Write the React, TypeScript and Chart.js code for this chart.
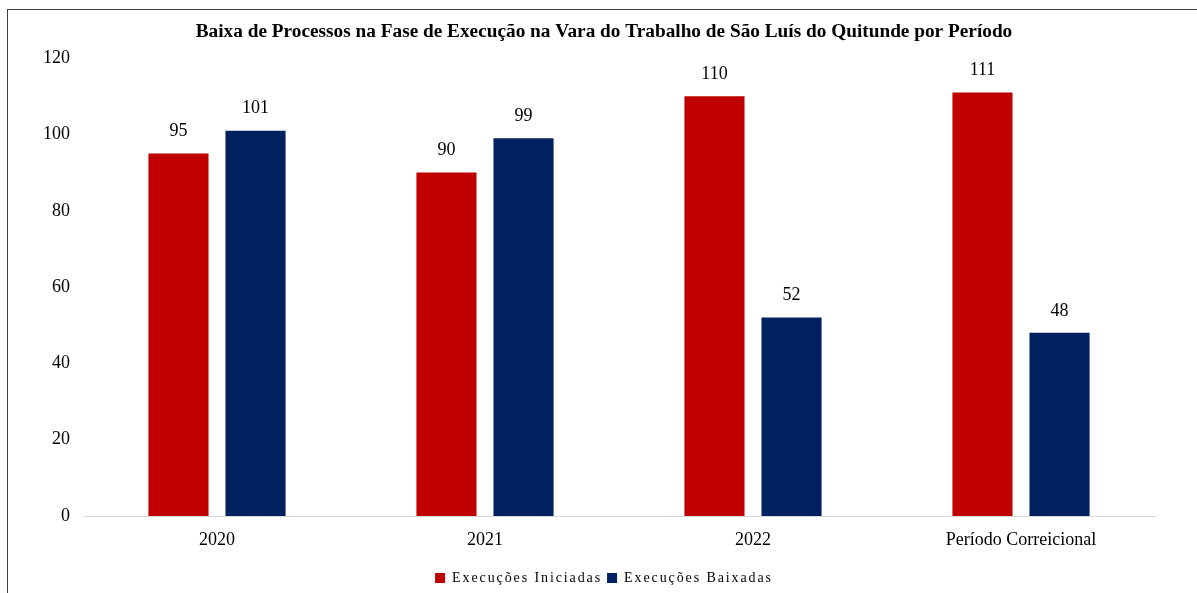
import React, { useEffect, useRef } from "react";
import { Chart, registerables } from "chart.js";

Chart.register(...registerables);

const categories = ["2020", "2021", "2022", "Período Correicional"];
const iniciadas = [95, 90, 110, 111];
const baixadas = [101, 99, 52, 48];
const seriesNames = ["Execuções Iniciadas", "Execuções Baixadas"];
const titleText =
  "Baixa de Processos na Fase de Execução na Vara do Trabalho de São Luís do Quitunde por Período";

const FONT = "'Liberation Serif', 'Times New Roman', serif";

const dataLabels = {
  id: "dataLabels",
  afterDatasetsDraw(chart: any) {
    const ctx = chart.ctx;
    ctx.save();
    ctx.font = `18px ${FONT}`;
    ctx.fillStyle = "#000";
    ctx.textAlign = "center";
    ctx.textBaseline = "middle";
    chart.data.datasets.forEach((ds: any, i: number) => {
      const meta = chart.getDatasetMeta(i);
      meta.data.forEach((bar: any, j: number) => {
        ctx.fillText(String(ds.data[j]), bar.x, bar.y - 22);
      });
    });
    ctx.restore();
  },
};

const legendSpacing = {
  id: "legendSpacing",
  afterInit(chart: any) {
    const lg = chart.legend;
    if (!lg) return;
    const of = lg.fit.bind(lg);
    const od = lg.draw.bind(lg);
    lg.fit = function () {
      const c = chart.ctx;
      c.save();
      c.letterSpacing = "1.9px";
      of();
      c.restore();
    };
    lg.draw = function (...args: any[]) {
      const c = chart.ctx;
      c.save();
      c.letterSpacing = "1.9px";
      od(...args);
      c.restore();
    };
  },
};

export default function App() {
  const ref = useRef<HTMLCanvasElement | null>(null);
  useEffect(() => {
    if (!ref.current) return;
    const chart = new Chart(ref.current, {
      type: "bar",
      data: {
        labels: categories,
        datasets: [
          {
            label: seriesNames[0],
            data: iniciadas,
            backgroundColor: "#C00000",
            categoryPercentage: 0.575,
            barPercentage: 0.78,
          },
          {
            label: seriesNames[1],
            data: baixadas,
            backgroundColor: "#002060",
            categoryPercentage: 0.575,
            barPercentage: 0.78,
          },
        ],
      },
      options: {
        responsive: false,
        animation: false,
        layout: { padding: { left: 11, right: 0, top: 0, bottom: -2 } },
        plugins: {
          title: {
            display: true,
            text: titleText,
            color: "#000",
            font: { family: FONT, size: 19.3, weight: "bold" },
            padding: { top: 20, bottom: 15 },
          },
          legend: {
            position: "bottom",
            labels: {
              color: "#000",
              font: { family: FONT, size: 14 },
              boxWidth: 10,
              boxHeight: 10,
              padding: 5,
            },
          },
          tooltip: { enabled: false },
        },
        scales: {
          x: {
            grid: { display: false, drawTicks: false },
            border: { display: true, color: "#d9d9d9", width: 1 },
            ticks: {
              color: "#000",
              font: { family: FONT, size: 18 },
              padding: 13,
              maxRotation: 0,
            },
            afterFit(scale: any) {
              scale.height = 50;
            },
          },
          y: {
            min: 0,
            max: 120,
            grid: { display: false, drawTicks: false },
            border: { display: false },
            ticks: {
              stepSize: 20,
              color: "#000",
              font: { family: FONT, size: 18 },
              padding: 13,
            },
            afterFit(scale: any) {
              scale.width = 72;
            },
          },
          y2: {
            position: "right",
            min: 0,
            max: 120,
            grid: { display: false, drawTicks: false },
            border: { display: false },
            ticks: { display: false },
            afterFit(scale: any) {
              scale.width = 42;
            },
          },
        },
      },
      plugins: [dataLabels, legendSpacing],
    });
    return () => chart.destroy();
  }, []);

  return (
    <div
      style={{
        position: "fixed",
        left: 0,
        top: 0,
        width: 1197,
        height: 593,
        overflow: "hidden",
        background: "#fff",
      }}
    >
      <div
        style={{
          position: "absolute",
          left: 7,
          top: 9,
          width: 1300,
          height: 700,
          border: "1px solid #404040",
          boxSizing: "border-box",
        }}
      />
      <canvas
        ref={ref}
        width={1197}
        height={593}
        style={{ position: "absolute", left: 0, top: 0, width: 1197, height: 593 }}
      />
    </div>
  );
}
